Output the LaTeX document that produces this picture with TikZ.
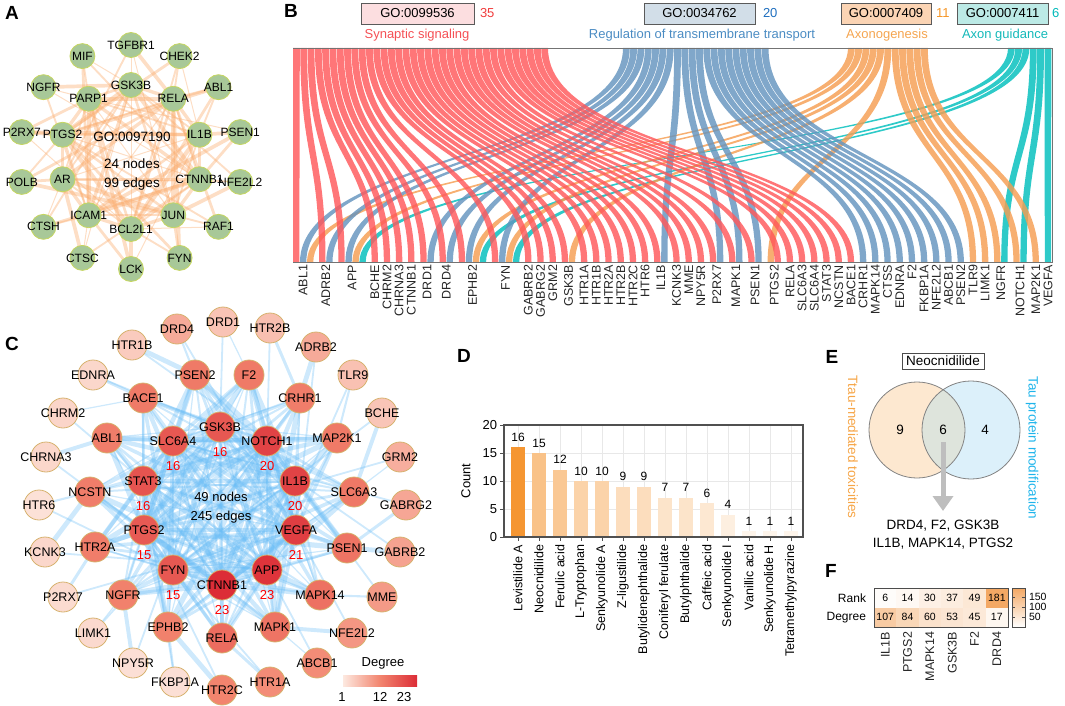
\documentclass[tikz,border=0pt]{standalone}
\usepackage{fontspec}
\setmainfont{Liberation Sans}
\usetikzlibrary{arrows.meta}
\definecolor{nodeG}{RGB}{168,200,152}
\definecolor{nodeGb}{RGB}{198,214,96}
\definecolor{edgeAc}{RGB}{250,172,110}
\definecolor{sR}{RGB}{255,88,90}
\definecolor{sB}{RGB}{100,148,190}
\definecolor{sO}{RGB}{245,158,82}
\definecolor{sT}{RGB}{0,190,188}
\definecolor{nR}{RGB}{240,60,60}
\definecolor{nB}{RGB}{30,110,190}
\definecolor{nO}{RGB}{245,150,40}
\definecolor{nT}{RGB}{0,185,185}
\definecolor{hR}{RGB}{245,80,85}
\definecolor{hB}{RGB}{75,140,195}
\definecolor{hO}{RGB}{245,165,80}
\definecolor{hT}{RGB}{20,185,185}
\definecolor{bR}{RGB}{252,222,224}
\definecolor{bB}{RGB}{210,222,232}
\definecolor{bO}{RGB}{251,212,180}
\definecolor{bT}{RGB}{188,234,230}
\definecolor{boxgray}{RGB}{90,90,90}
\definecolor{degL}{RGB}{253,233,224}
\definecolor{degM}{RGB}{242,132,110}
\definecolor{degH}{RGB}{220,45,55}
\definecolor{nodeCb}{RGB}{214,178,110}
\definecolor{edgeCc}{RGB}{105,188,245}
\definecolor{barO}{RGB}{245,150,50}
\definecolor{axgray}{RGB}{80,80,80}
\definecolor{gridc}{RGB}{232,232,232}
\definecolor{vennO}{RGB}{253,232,208}
\definecolor{vennB}{RGB}{220,240,250}
\definecolor{vennX}{RGB}{222,228,220}
\definecolor{venngray}{RGB}{130,130,130}
\definecolor{arrowgray}{RGB}{190,190,190}
\definecolor{tO}{RGB}{246,165,70}
\definecolor{tB}{RGB}{30,180,235}
\definecolor{heat}{RGB}{243,168,100}
\def\skX{X}
\newcommand\skdraw[1]{%
  \pgfmathsetmacro\skta{\csname sk#1\endcsname}%
  \pgfmathsetmacro\sktb{\skta+6.8}%
  \pgfmathsetmacro\skba{\skbx}%
  \pgfmathsetmacro\skbb{\skbx+6.3}%
  \fill[fill=s#1, opacity=0.82] (\skta,48) .. controls (\skta,155) and (\skba,155) .. (\skba,262) -- (\skbb,262) .. controls (\skbb,155) and (\sktb,155) .. (\sktb,48) -- cycle;%
  \pgfmathsetmacro\sktmp{\skta+7.3}%
  \expandafter\xdef\csname sk#1\endcsname{\sktmp}%
  \pgfmathsetmacro\sktmp{\skbx+7}%
  \xdef\skbx{\sktmp}%
}
\newcommand\skone[1]{\edef\skc{#1}\ifx\skc\skX\else\expandafter\skdraw\expandafter{\skc}\fi}
\def\Couter{DRD1/223/322/38,HTR2B/270/328/42,ADRB2/316/347/62,TLR9/353/375/40,BCHE/382/413/36,GRM2/400/457/58,GABRG2/406/505/66,GABRB2/400/552/70,MME/382/597/78,NFE2L2/352/633/82,ABCB1/317/663/92,HTR1A/270/682/92,HTR2C/222/690/100,FKBP1A/175/682/10,NPY5R/133/663/10,LIMK1/93/633/16,P2RX7/63/597/14,KCNK3/45/552/18,HTR6/39/505/8,CHRNA3/46/457/18,CHRM2/63/413/20,EDNRA/93/375/18,HTR1B/132/345/30,DRD4/177/329/62}
\def\Cmid{F2/249/375/12,CRHR1/300/398/8,MAP2K1/337/438/12,SLC6A3/354/492/14,PSEN1/347/548/18,MAPK14/320/595/22,MAPK1/275/627/18,RELA/222/638/28,EPHB2/168/627/4,NGFR/123/595/4,HTR2A/95/547/8,NCSTN/90/492/8,ABL1/107/438/8,BACE1/143/398/12,PSEN2/195/375/12}
\def\Cinner{GSK3B/220/427/50/16,NOTCH1/267/441/75/20,IL1B/295/481/75/20,VEGFA/296/530/80/21,APP/267/570/92/23,CTNNB1/222/585/100/23,FYN/173/570/50/15,PTGS2/144/530/48/15,STAT3/143/481/55/16,SLC6A4/173/441/50/16}
\begin{document}
\begin{tikzpicture}[x=1pt,y=-1pt,
  every node/.style={inner sep=0pt, outer sep=0pt},
  plab/.style={font=\fontsize{19}{20}\selectfont\bfseries},
  alab/.style={font=\fontsize{12}{13}\selectfont},
  atxt/.style={font=\fontsize{13.5}{15}\selectfont},
  acirc/.style={circle, minimum size=25pt, fill=nodeG, draw=nodeGb, line width=0.8pt},
  edgeA/.style={draw=edgeAc, opacity=0.4, line cap=round},
  hdr/.style={font=\fontsize{13}{15}\selectfont},
  gobox/.style={draw=boxgray, line width=0.9pt, minimum height=21pt, hdr},
  glab/.style={font=\fontsize{12.5}{14}\selectfont, rotate=90, anchor=east, text=black!85},
  ccirc/.style={circle, minimum size=30pt, draw=nodeCb, line width=0.8pt},
  lo/.style={fill=degM!#1!degL},
  hi/.style={fill=degH!#1!degM},
  clab/.style={font=\fontsize{12.5}{14}\selectfont},
  cnum/.style={font=\fontsize{13}{14}\selectfont, text=red},
  ctxt/.style={font=\fontsize{13}{15}\selectfont},
  edgeC/.style={draw=edgeCc, opacity=0.33, line cap=round},
  dtick/.style={font=\fontsize{13}{14}\selectfont},
  dval/.style={font=\fontsize{12}{13}\selectfont},
  dlab/.style={font=\fontsize{12.5}{14}\selectfont, rotate=90, anchor=east},
  etxt/.style={font=\fontsize{13.5}{15}\selectfont},
  fnum/.style={font=\fontsize{10.5}{12}\selectfont},
  flab/.style={font=\fontsize{12}{13}\selectfont}
]
\useasboundingbox (0,0) rectangle (1065,706);

% ================= Panel A =================
\node[plab] (LA) at (12,13) {A};
\foreach \i in {0,...,13}{\coordinate (ao\i) at ({131+112*sin(\i*360/14)},{157-112*cos(\i*360/14)});}
\foreach \i in {0,...,9}{\coordinate (ai\i) at ({131+72*sin(\i*36)},{157-72*cos(\i*36)});}
\foreach \i in {0,...,8}{
  \pgfmathtruncatemacro\sA{\i+1}
  \foreach \j in {\sA,...,9}{
    \pgfmathsetmacro\w{1+mod(\i*7+\j*3,5)*0.8}
    \draw[edgeA,line width=\w pt] (ai\i) -- (ai\j);
  }
}
\foreach \k in {0,...,13}{
  \pgfmathtruncatemacro\bA{round(\k*10/14)}
  \foreach \o in {0,1,4,7}{
    \pgfmathtruncatemacro\jA{mod(\bA+\o,10)}
    \pgfmathsetmacro\w{1+mod(\k*5+\o*3,4)*0.9}
    \draw[edgeA,line width=\w pt] (ao\k) -- (ai\jA);
  }
}
\foreach \i/\n in {0/TGFBR1,1/CHEK2,2/ABL1,3/PSEN1,4/NFE2L2,5/RAF1,6/FYN,7/LCK,8/CTSC,9/CTSH,10/POLB,11/P2RX7,12/NGFR,13/MIF}{
  \node[acirc] (nao\i) at (ao\i) {};
  \node[alab] (tao\i) at (ao\i) {\n};
}
\foreach \i/\n in {0/GSK3B,1/RELA,2/IL1B,3/CTNNB1,4/JUN,5/BCL2L1,6/ICAM1,7/AR,8/PTGS2,9/PARP1}{
  \node[acirc] (nai\i) at (ai\i) {};
  \node[alab] (tai\i) at (ai\i) {\n};
}
\node[atxt] (goA) at (132,137) {GO:0097190};
\node[atxt] (nA) at (132,164) {24 nodes};
\node[atxt] (eA) at (132,184) {99 edges};

% ================= Panel B =================
\node[plab] (LB) at (291,11) {B};
\node[gobox, fill=bR, minimum width=113pt] (go1) at (417.5,13.5) {GO:0099536};
\node[hdr, text=nR, anchor=west] (c1) at (480,13.5) {35};
\node[gobox, fill=bB, minimum width=111pt] (go2) at (699.5,13.5) {GO:0034762};
\node[hdr, text=nB, anchor=west] (c2) at (763,13.5) {20};
\node[gobox, fill=bO, minimum width=90pt] (go3) at (886,13.5) {GO:0007409};
\node[hdr, text=nO, anchor=west] (c3) at (936,13.5) {11};
\node[gobox, fill=bT, minimum width=91pt] (go4) at (1002.5,13.5) {GO:0007411};
\node[hdr, text=nT, anchor=west] (c4) at (1052,13.5) {6};
\node[hdr, text=hR] (s1) at (417,35) {Synaptic signaling};
\node[hdr, text=hB] (s2) at (702,35) {Regulation of transmembrane transport};
\node[hdr, text=hO] (s3) at (887,35) {Axonogenesis};
\node[hdr, text=hT] (s4) at (1005,35) {Axon guidance};

\xdef\skR{293}\xdef\skB{623}\xdef\skO{848}\xdef\skT{1008}\xdef\skbx{293}
\foreach \g/\ca/\cb/\cc/\cd in {ABL1/R/B/O/X, ADRB2/R/B/X/X, APP/R/B/O/T, BCHE/R/X/X/X, CHRM2/R/X/X/X, CHRNA3/R/X/X/X, CTNNB1/R/X/X/X, DRD1/R/B/X/X, DRD4/R/B/X/X, EPHB2/R/B/O/T, FYN/R/B/O/T, GABRB2/R/X/X/X, GABRG2/R/X/X/X, GRM2/R/X/X/X, GSK3B/R/O/X/X, HTR1A/R/X/X/X, HTR1B/R/X/X/X, HTR2A/R/X/X/X, HTR2B/R/X/X/X, HTR2C/R/X/X/X, HTR6/R/X/X/X, IL1B/R/B/X/X, KCNK3/R/X/X/X, MME/R/X/X/X, NPY5R/R/X/X/X, P2RX7/R/B/X/X, MAPK1/R/B/X/X, PSEN1/R/B/X/X, PTGS2/O/R/X/X, RELA/R/X/X/X, SLC6A3/R/X/X/X, SLC6A4/R/X/X/X, STAT3/R/X/X/X, NCSTN/R/X/X/X, BACE1/R/X/X/X, CRHR1/B/X/X/X, MAPK14/B/X/X/X, CTSS/B/X/X/X, EDNRA/B/X/X/X, F2/B/X/X/X, FKBP1A/B/X/X/X, NFE2L2/B/X/X/X, ABCB1/B/X/X/X, PSEN2/B/X/X/X, TLR9/O/X/X/X, LIMK1/O/X/X/X, NGFR/O/T/X/X, NOTCH1/O/T/X/X, MAP2K1/O/X/X/X, VEGFA/T/X/X/X}{
  \xdef\skgs{\skbx}
  \skone{\ca}\skone{\cb}\skone{\cc}\skone{\cd}
  \pgfmathsetmacro\skgc{(\skgs+\skbx-0.7)/2}
  \node[glab] (g-\g) at (\skgc,265) {\g};
  \pgfmathsetmacro\sktmp{\skbx+5.2}
  \xdef\skbx{\sktmp}
}
\draw[draw=black!55, line width=0.8pt] (293,48) -- (1052,48) -- (1052,262) -- (293,262);

% ================= Panel C =================
\node[plab] (LC) at (12,344) {C};
\foreach \n/\x/\y/\p [count=\k from 0] in \Couter {\coordinate (co\k) at (\x,\y);}
\foreach \n/\x/\y/\p [count=\k from 0] in \Cmid {\coordinate (cm\k) at (\x,\y);}
\foreach \n/\x/\y/\p/\d [count=\k from 0] in \Cinner {\coordinate (ci\k) at (\x,\y);}
\foreach \i in {0,...,8}{
  \pgfmathtruncatemacro\sC{\i+1}
  \foreach \j in {\sC,...,9}{
    \pgfmathsetmacro\w{1.5+mod(\i*3+\j*7,5)*1.0}
    \draw[edgeC,line width=\w pt] (ci\i) -- (ci\j);
  }
}
\foreach \i in {0,...,9}{
  \foreach \j in {0,...,14}{
    \pgfmathsetmacro\w{1.2+mod(\i*5+\j*3,6)*0.8}
    \draw[edgeC,line width=\w pt] (ci\i) -- (cm\j);
  }
}
\foreach \k in {0,...,23}{
  \pgfmathtruncatemacro\mA{mod(round(\k*15/24),15)}
  \pgfmathtruncatemacro\iA{mod(round(\k*10/24)+\k,10)}
  \pgfmathsetmacro\w{1.2+mod(\k*7,5)*0.9}
  \draw[edgeC,line width=\w pt] (co\k) -- (cm\mA);
  \draw[edgeC,line width=1.8pt] (co\k) -- (ci\iA);
}
\foreach \n/\x/\y/\p [count=\k from 0] in \Couter {
  \node[ccirc,lo=\p] (nco\k) at (co\k) {};
  \node[clab] (tco\k) at (co\k) {\n};
}
\foreach \n/\x/\y/\p [count=\k from 0] in \Cmid {
  \node[ccirc,hi=\p] (ncm\k) at (cm\k) {};
  \node[clab] (tcm\k) at (cm\k) {\n};
}
\foreach \n/\x/\y/\p/\d [count=\k from 0] in \Cinner {
  \node[ccirc,hi=\p] (nci\k) at (ci\k) {};
  \node[clab] (tci\k) at (ci\k) {\n};
  \node[cnum] (dci\k) at (\x,\y+25) {\d};
}
\node[ctxt] (nC) at (221,497) {49 nodes};
\node[ctxt] (eC) at (221,517) {245 edges};
\node[ctxt] (degT) at (383,663) {Degree};
\shade[left color=degL, right color=degH, middle color=degM] (343,675) rectangle (417,686);
\node[ctxt] (d1) at (342,697) {1};
\node[ctxt] (d12) at (380,697) {12};
\node[ctxt] (d23) at (404,697) {23};

% ================= Panel D =================
\node[plab] (LD) at (464,356) {D};
\foreach \k in {0,...,13}{\draw[gridc, line width=0.6pt] ({518+21*\k},425) -- ({518+21*\k},537);}
\foreach \v in {5,10,15}{\draw[gridc, line width=0.6pt] (504,{537-5.6*\v}) -- (803,{537-5.6*\v});}
\foreach \n/\v/\p [count=\k from 0] in {Levistilide A/16/100, Neocnidilide/15/58, Ferulic acid/12/52, L-Tryptophan/10/42, Senkyunolide A/10/42, Z-ligustilide/9/32, Butylidenephthalide/9/32, Coniferyl ferulate/7/26, Butylphthalide/7/26, Caffeic acid/6/22, Senkyunolide I/4/15, Vanillic acid/1/10, Senkyunolide H/1/10, Tetramethylpyrazine/1/10}{
  \pgfmathsetmacro\cx{518+21*\k}
  \pgfmathsetmacro\ty{537-5.6*\v}
  \fill[barO!\p!white] (\cx-7.2,537) rectangle (\cx+7.2,\ty);
  \node[dval] (dv\k) at (\cx,\ty-10) {\v};
  \draw[axgray, line width=1pt] (\cx,537) -- (\cx,541);
  \node[dlab] (dl\k) at (\cx,545) {\n};
}
\draw[axgray, line width=1.1pt] (504,425) rectangle (803,537);
\foreach \v in {0,5,10,15,20}{
  \draw[axgray, line width=1pt] (500,{537-5.6*\v}) -- (504,{537-5.6*\v});
  \node[dtick, anchor=east] (dt\v) at (497,{537-5.6*\v}) {\v};
}
\node[dtick, rotate=90] (cnt) at (466,481) {Count};

% ================= Panel E =================
\node[plab] (LE) at (832,357) {E};
\node[etxt, draw=black!70, line width=0.8pt, fill=white, minimum width=82pt, minimum height=16pt] (neo) at (943,361) {Neocnidilide};
\fill[vennO] (917,430) circle[radius=48pt];
\fill[vennB] (971,430) circle[radius=49pt];
\begin{scope}
  \clip (917,430) circle[radius=48pt];
  \fill[vennX] (971,430) circle[radius=49pt];
\end{scope}
\draw[venngray, line width=0.8pt] (917,430) circle[radius=48pt];
\draw[venngray, line width=0.8pt] (971,430) circle[radius=49pt];
\node[etxt] (v9) at (900,430) {9};
\node[etxt] (v6) at (943,430) {6};
\node[etxt] (v4) at (985,430) {4};
\node[etxt] (eg1) at (943,526) {DRD4, F2, GSK3B};
\node[etxt] (eg2) at (943,544) {IL1B, MAPK14, PTGS2};
\coordinate (arrS) at (943,442);
\coordinate (arrE) at (943,511);
\draw[draw=arrowgray, line width=5pt, -{Triangle[width=20pt,length=15pt]}] (arrS) -- (arrE);
\node[etxt, text=tO, rotate=-90] (ttl) at (853,447) {Ttau-mediated toxicities};
\node[etxt, text=tB, rotate=-90] (ttr) at (1032,448) {Tau protein modification};

% ================= Panel F =================
\node[plab] (LF) at (831,571) {F};
\foreach \v [count=\k from 0] in {6,14,30,37,49,181}{
  \pgfmathsetmacro\cx{874+22.33*\k}
  \pgfmathsetmacro\pp{\v/181*100}
  \fill[heat!\pp!white] (\cx,588) rectangle ++(22.33,19.5);
  \node[fnum] (fr\k) at (\cx+11.17,597.75) {\v};
}
\foreach \v [count=\k from 0] in {107,84,60,53,45,17}{
  \pgfmathsetmacro\cx{874+22.33*\k}
  \pgfmathsetmacro\pp{\v/181*100}
  \fill[heat!\pp!white] (\cx,607.5) rectangle ++(22.33,19.5);
  \node[fnum] (fd\k) at (\cx+11.17,617.25) {\v};
}
\draw[black!70, line width=0.8pt] (874,588) rectangle (1008,627);
\node[flab, anchor=east] (fRank) at (866,598) {Rank};
\node[flab, anchor=east] (fDeg) at (866,617.5) {Degree};
\foreach \n [count=\k from 0] in {IL1B,PTGS2,MAPK14,GSK3B,F2,DRD4}{
  \node[glab] (fc\k) at ({885.2+22.33*\k},632) {\n};
}
\shade[top color=heat, bottom color=white] (1012,588) rectangle (1025,627);
\draw[black!70, line width=0.8pt] (1012,588) rectangle (1025,627);
\foreach \v/\yy in {150/597,100/607,50/617}{
  \draw[black!70, line width=0.8pt] (1012,\yy) -- (1015,\yy);
  \draw[black!70, line width=0.8pt] (1022,\yy) -- (1025,\yy);
  \node[fnum, anchor=west] (fl\v) at (1029,\yy) {\v};
}
\end{tikzpicture}
\end{document}
